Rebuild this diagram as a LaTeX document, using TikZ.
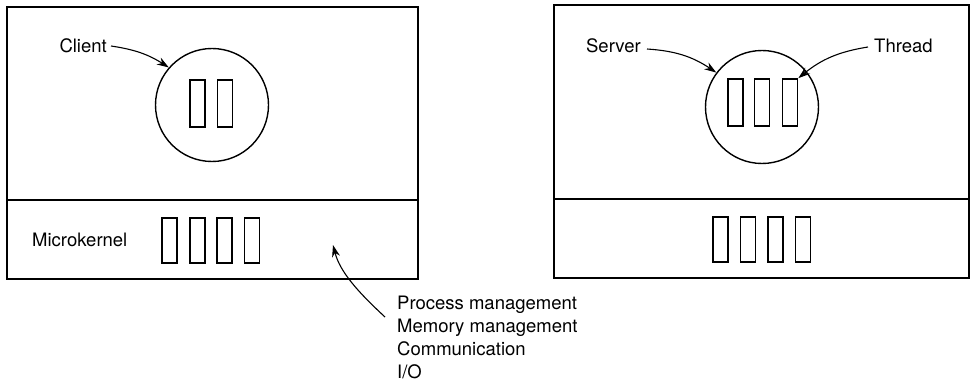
\documentclass[tikz,border=0pt]{standalone}
\usepackage{fontspec}
\setmainfont{TeX Gyre Heros}
\usetikzlibrary{arrows.meta}
\begin{document}
\begin{tikzpicture}[x=1pt,y=-1pt,
  frame/.style={line width=2pt},
  proc/.style={draw,circle,line width=1.4pt,minimum size=113pt,inner sep=0pt},
  thr/.style={draw,rectangle,line width=1.6pt,minimum width=15pt,minimum height=47pt,inner sep=0pt},
  lbl/.style={inner sep=0pt,font=\fontsize{18.5}{23}\selectfont},
  arr/.style={line width=1.1pt,-{Stealth[length=12pt,width=8pt]}}]
\useasboundingbox (0,0) rectangle (972,385);
% left machine
\draw[frame] (7,7) rectangle (418,279);
\draw[frame] (7,200) -- (418,200);
\node[proc] (cc) at (212,105) {};
\node[thr] (c1) at (197.5,103.5) {};
\node[thr] (c2) at (225,103.5) {};
\node[lbl,anchor=east] (client) at (107,46) {Client};
\draw[arr] (client.east) ++(4,0) coordinate (clt) to[bend left=12] (cc.139);
\node[lbl,anchor=west] (mk) at (32,240) {Microkernel};
\node[thr,minimum height=45pt] (k1) at (169.5,240.5) {};
\node[thr,minimum height=45pt] (k2) at (197.5,240.5) {};
\node[thr,minimum height=45pt] (k3) at (224.5,240.5) {};
\node[thr,minimum height=45pt] (k4) at (252,240.5) {};
% right machine
\draw[frame] (554,5) rectangle (969,278);
\draw[frame] (554,199) -- (969,199);
\node[proc] (sc) at (762,107) {};
\node[thr] (s1) at (735.5,102.5) {};
\node[thr] (s2) at (762,102.5) {};
\node[thr] (s3) at (790,102.5) {};
\node[lbl,anchor=east] (server) at (641,46) {Server};
\node[lbl,anchor=west] (thread) at (874,46) {Thread};
\draw[arr] (server.east) ++(6,3) coordinate (svt) to[bend left=15] (sc.143);
\draw[arr] (thread.west) ++(-6,1) coordinate (tht) to[bend right=15] (s3.north east);
\node[thr,minimum height=45pt] (m1) at (720.5,239.5) {};
\node[thr,minimum height=45pt] (m2) at (748,239.5) {};
\node[thr,minimum height=45pt] (m3) at (775.5,239.5) {};
\node[thr,minimum height=45pt] (m4) at (803,239.5) {};
% kernel services
\node[lbl,anchor=north west,align=left] (svc) at (397,296)
  {Process management\\Memory management\\Communication\\I/O};
\coordinate (ktail) at (385,317);
\coordinate (ktip) at (333,245);
\draw[arr] (ktail) .. controls (358,292) and (340,272) .. (ktip);
\end{tikzpicture}
\end{document}
